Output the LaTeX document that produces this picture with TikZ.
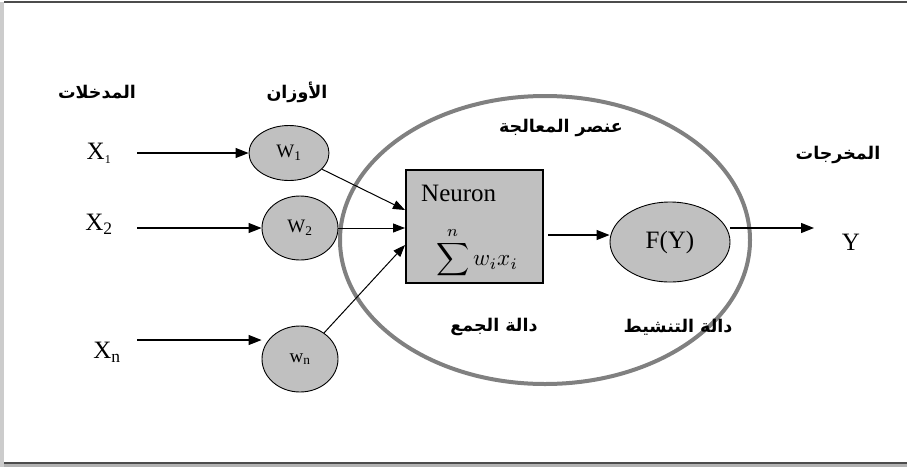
\documentclass[tikz,border=0pt]{standalone}
\usepackage{fontspec}
\setmainfont{Liberation Serif}
\newfontfamily\arabicfont[Script=Arabic]{DejaVu Sans}
\TeXXeTstate=1
\usetikzlibrary{shapes.geometric,arrows.meta}
\definecolor{fillgray}{RGB}{192,192,192}
\definecolor{ringgray}{RGB}{128,128,128}
\tikzset{
  wnode/.style={ellipse,draw=black,fill=fillgray,line width=0.9pt,inner sep=0pt},
  arlabel/.style={font=\arabicfont\bfseries\fontsize{17.5}{20}\selectfont},
  xlabel/.style={font=\fontsize{25}{28}\selectfont},
  wlabel/.style={font=\fontsize{19}{22}\selectfont},
  arr/.style={line width=1.2pt,-{Triangle[length=13pt,width=10pt]}},
  thin arr/.style={line width=1pt,-{Triangle[length=12pt,width=9pt]}},
}
\begin{document}
\begin{tikzpicture}[x=1pt,y=-1pt]
\useasboundingbox (0,0) rectangle (907,467);
% frame
\fill[gray!40] (0,2) rectangle (4,467);
\draw[line width=2pt,black!70] (4,2) -- (907,2);
\fill[gray!60] (4,464) rectangle (907,467);
\draw[line width=1.5pt,black!70] (4,463) -- (907,463);
% big processing ellipse
\node[ellipse,draw=ringgray,line width=4pt,minimum width=410pt,minimum height=288pt,inner sep=0pt] (pe) at (545,240) {};
% labels
\node[arlabel] (tin) at (97,92) {\beginR المدخلات\endR};
\node[arlabel] (tw) at (297,92) {\beginR الأوزان\endR};
\node[arlabel] (tpe) at (561,128) {\beginR عنصر المعالجة\endR};
\node[arlabel] (tout) at (838,155) {\beginR المخرجات\endR};
\node[arlabel] (tsum) at (494,327) {\beginR دالة الجمع\endR};
\node[arlabel] (tact) at (678,327) {\beginR دالة التنشيط\endR};
% inputs
\node[xlabel] (x1) at (99,153) {X\textsubscript{\fontsize{12}{12}\selectfont 1}};
\node[xlabel] (x2) at (99,224) {X\textsubscript{2}};
\node[xlabel] (xn) at (107,352) {X\textsubscript{n}};
\coordinate (x1e) at (137,153);
\coordinate (x2e) at (137,228);
\coordinate (xne) at (137,340);
% weights
\node[wnode,minimum width=80pt,minimum height=55pt,wlabel] (w1) at (289,153) {W\textsubscript{1}};
\node[wnode,minimum width=76pt,minimum height=64pt,wlabel] (w2) at (300,228) {W\textsubscript{2}};
\node[wnode,minimum width=76pt,minimum height=66pt,wlabel] (wn) at (300,359) {\raisebox{-8pt}{w\textsubscript{n}}};
% neuron box
\node[draw=black,fill=fillgray,line width=1.2pt,minimum width=137pt,minimum height=113pt,inner sep=0pt] (box) at (474.5,226.5) {};
\node[font=\fontsize{25}{28}\selectfont,anchor=west,inner sep=0pt] (neu) at (421,193) {Neuron};
\node[scale=2.3,inner sep=0pt] (sum) at (477,253) {$\displaystyle\sum^{n} w_i x_i$};
\coordinate (t1) at (405,210);
\coordinate (t2) at (405,228);
\coordinate (tn) at (405,245);
\coordinate (bo) at (548,235);
% activation
\node[wnode,minimum width=120pt,minimum height=80pt,font=\fontsize{25}{28}\selectfont] (fy) at (670,242) {F(Y)};
\node[xlabel] (y) at (851,242) {Y};
\coordinate (ye) at (814,228);
% connectors
\draw[arr] (x1e) -- (w1.west);
\draw[arr] (x2e) -- (w2.west);
\draw[arr] (xne) -- (xne -| wn.west);
\draw[thin arr] (w1) -- (t1);
\draw[thin arr] (w2) -- (t2);
\draw[thin arr] (wn) -- (tn);
\draw[arr] (bo) -- (fy.west |- bo);
\draw[arr] (fy.east |- ye) -- (ye);
\end{tikzpicture}
\end{document}
